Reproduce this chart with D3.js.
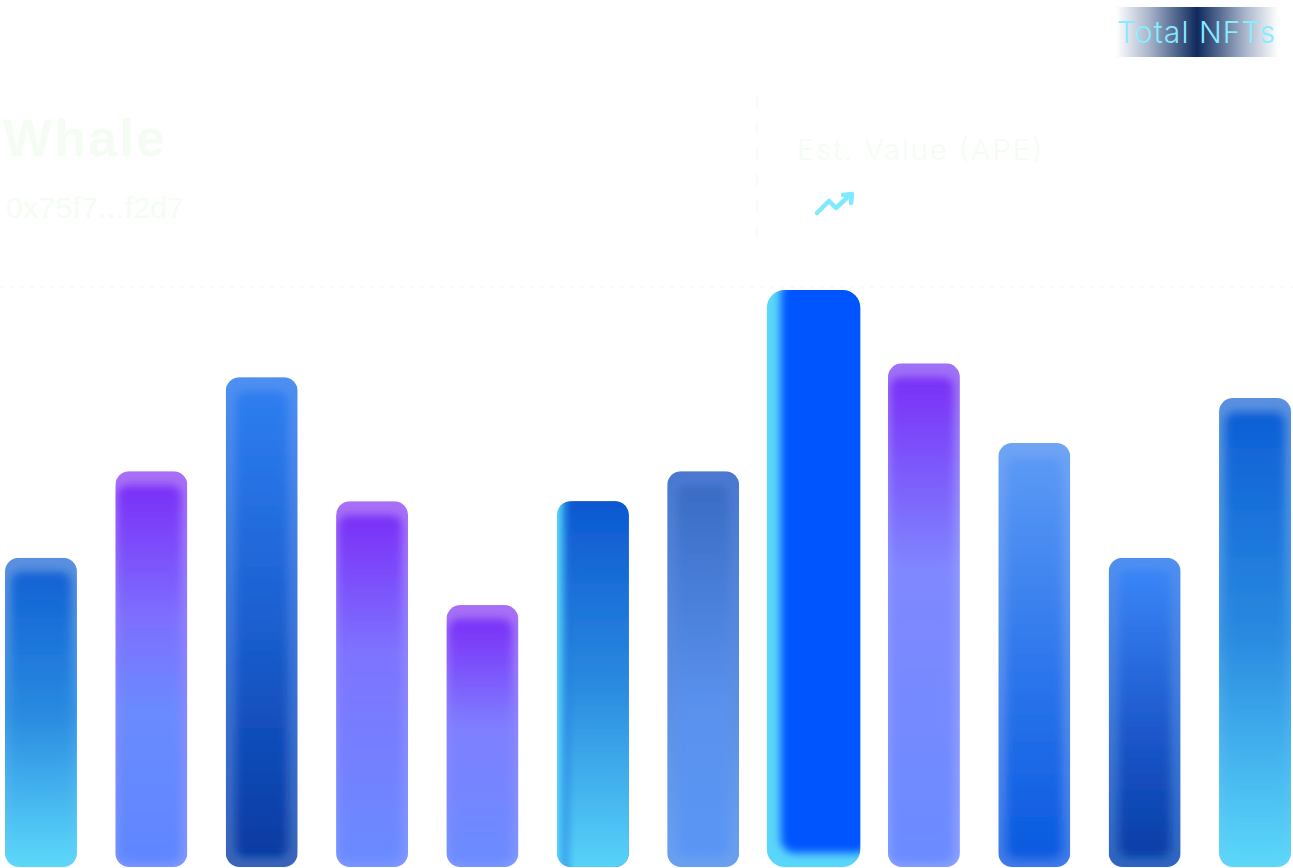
<!DOCTYPE html>
<html>
<head>
<meta charset="utf-8">
<script src="https://cdn.jsdelivr.net/npm/d3@7"></script>
<style>
html,body{margin:0;padding:0;background:#ffffff;overflow:hidden;}
svg{display:block;}
</style>
</head>
<body>
<svg id="chart" width="1293" height="868"></svg>
<script>
// ---- data ----
const categories = ["Jan","Feb","Mar","Apr","May","Jun","Jul","Aug","Sep","Oct","Nov","Dec"];
const values = [53.6, 68.6, 84.9, 63.4, 45.4, 63.4, 68.6, 100, 87.3, 73.5, 53.6, 81.3];
const highlighted = ["Aug"];
const titleText = "Whale";
const addressText = "0x75f7...f2d7";
const metricText = "Est. Value (APE)";
const badgeText = "Total NFTs";

// ---- styles (per bar appearance) ----
const barStyles = [
  {edgeDir:"v", edge:[["0","#5b8fe0"],["0.5","#3a96e6"],["1","#60d6f8"]], inner:[["0","#1262d4"],["0.5","#2a8be0"],["1","#5ad6fa"]], inset:[14,6,6,6]},
  {edgeDir:"v", edge:[["0","#a86ff6"],["0.4","#8f82ff"],["1","#7e98ff"]], inner:[["0","#7a2ff7"],["0.35","#7d6fff"],["0.6","#6a8bff"],["1","#5f86ff"]], inset:[14,6,4,2]},
  {edgeDir:"v", edge:[["0","#4e8ff2"],["0.6","#3a72d6"],["1","#3a64b8"]], inner:[["0","#2e7ef0"],["0.5","#1b5fd0"],["1","#063aa2"]], inset:[14,10,10,10]},
  {edgeDir:"v", edge:[["0","#a86ff6"],["0.4","#8f82ff"],["1","#7e98ff"]], inner:[["0","#7a2ff7"],["0.4","#7e74ff"],["1","#6a8cff"]], inset:[14,6,4,2]},
  {edgeDir:"v", edge:[["0","#a86ff6"],["0.4","#8f82ff"],["1","#7e98ff"]], inner:[["0","#7a2ff7"],["0.45","#7f80ff"],["1","#6a8cff"]], inset:[14,6,4,2]},
  {edgeDir:"h", edge:[["0","#5ad6fa"],["0.25","#0b5bd6"],["1","#0b5bd6"]], inner:[["0","#0b55d0"],["0.5","#2a8ae0"],["1","#5ad6fa"]], inset:[-10,-10,-10,10]},
  {edgeDir:"v", edge:[["0","#4a78d0"],["1","#6aa0f0"]], inner:[["0","#3a6cc4"],["0.6","#5a92ee"],["1","#5a96f5"]], inset:[14,10,10,10]},
  {edgeDir:"v", edge:[["0","#5ad6fa"],["1","#5ad6fa"]], inner:[["0","#0055ff"],["1","#0055ff"]], inset:[-10,-10,14,14]},
  {edgeDir:"v", edge:[["0","#a070f6"],["0.4","#9098ff"],["1","#8aa0ff"]], inner:[["0","#7a2ff7"],["0.4","#8088ff"],["1","#6a8cff"]], inset:[14,6,4,2]},
  {edgeDir:"v", edge:[["0","#6fa4f5"],["1","#3f7ae8"]], inner:[["0","#5c9af5"],["0.5","#2f78ec"],["1","#0a5ae0"]], inset:[14,8,8,8]},
  {edgeDir:"v", edge:[["0","#4f8ff2"],["1","#2f64c0"]], inner:[["0","#3a86f8"],["0.6","#1a55c8"],["1","#063ea6"]], inset:[12,10,10,10]},
  {edgeDir:"v", edge:[["0","#5b8fe0"],["0.5","#3a96e6"],["1","#60d6f8"]], inner:[["0","#0d5fd6"],["0.5","#2a8ae0"],["1","#5ad6fa"]], inset:[14,6,6,6]}
];

const W = 1293, H = 868;
const svg = d3.select("#chart");
const defs = svg.append("defs");

const x = d3.scaleBand().domain(categories).range([5, 1291]).paddingInner(0.348).paddingOuter(0);
const y = d3.scaleLinear().domain([0, 100]).range([867, 290]);

defs.append("filter").attr("id","soft").attr("x","-50%").attr("y","-50%").attr("width","200%").attr("height","200%")
  .append("feGaussianBlur").attr("stdDeviation", 4);

// ---- header texts (very faint) ----
const faint = "#f5fcf4";
svg.append("text").attr("x", 3).attr("y", 156).text(titleText)
  .attr("font-family","Liberation Sans, Arial, sans-serif").attr("font-size", 52).attr("font-weight", 700)
  .attr("textLength", 162).attr("fill", faint);
svg.append("text").attr("x", 6).attr("y", 218).text(addressText)
  .attr("font-family","Liberation Sans, Arial, sans-serif").attr("font-size", 30)
  .attr("textLength", 178).attr("fill", faint);
svg.append("text").attr("x", 797).attr("y", 160).text(metricText)
  .attr("font-family","Inter, Open Sans, sans-serif").attr("font-size", 29).attr("font-weight", 300)
  .attr("textLength", 245).attr("fill", faint);
svg.append("line").attr("x1",757).attr("x2",757).attr("y1",96).attr("y2",252)
  .attr("stroke","#f6fbf4").attr("stroke-width",2).attr("stroke-dasharray","12 14");
svg.append("line").attr("x1",0).attr("x2",W).attr("y1",287).attr("y2",287)
  .attr("stroke","#f8faf2").attr("stroke-width",1.5).attr("stroke-dasharray","4 6");

// trend icon
svg.append("path").attr("d","M817,213 L829,201 L836,208 L850,195")
  .attr("fill","none").attr("stroke","#7fe9ff").attr("stroke-width",4.5).attr("stroke-linecap","round").attr("stroke-linejoin","round");
svg.append("path").attr("d","M843,195 L852,194 L851,203")
  .attr("fill","none").attr("stroke","#7fe9ff").attr("stroke-width",4.5).attr("stroke-linecap","round").attr("stroke-linejoin","round");

// badge
const bg = defs.append("linearGradient").attr("id","badgeGrad").attr("x1","0").attr("x2","1").attr("y1","0").attr("y2","0");
[["0","#ffffff"],["0.2","#aab6cc"],["0.5","#0f2a5e"],["0.8","#aab6cc"],["1","#ffffff"]].forEach(s=>bg.append("stop").attr("offset",s[0]).attr("stop-color",s[1]));
svg.append("rect").attr("x",1116).attr("y",7).attr("width",162).attr("height",50).attr("fill","url(#badgeGrad)");
svg.append("text").attr("x",1117).attr("y",43).text(badgeText)
  .attr("font-family","Inter, Open Sans, sans-serif").attr("font-size",30).attr("font-weight",300)
  .attr("textLength",158).attr("fill","#86ecff");

// ---- bars ----
const data = categories.map((c,i)=>({c, v: values[i], s: barStyles[i], hi: highlighted.includes(c)}));

function grad(id, dir, stops){
  const g = defs.append("linearGradient").attr("id", id)
    .attr("x1","0").attr("y1","0").attr("x2", dir==="h" ? "1" : "0").attr("y2", dir==="h" ? "0" : "1");
  stops.forEach(s=>g.append("stop").attr("offset",s[0]).attr("stop-color",s[1]));
}

data.forEach((d,i)=>{
  let bw = x.bandwidth();
  let cx = x(d.c) + bw/2;
  if (d.hi) bw = bw * 1.3;
  const x0 = cx - bw/2;
  const y0 = y(d.v), y1 = y(0);
  const h = y1 - y0;
  const r = d.hi ? 18 : 14;
  grad("edge"+i, d.s.edgeDir, d.s.edge);
  grad("inner"+i, "v", d.s.inner);
  defs.append("clipPath").attr("id","clip"+i)
    .append("rect").attr("x",x0).attr("y",y0).attr("width",bw).attr("height",h).attr("rx",r).attr("ry",r);
  const g = svg.append("g").attr("class","bar").attr("clip-path","url(#clip"+i+")");
  g.append("rect").attr("x",x0).attr("y",y0).attr("width",bw).attr("height",h).attr("fill","url(#edge"+i+")");
  const [t,rr,b,l] = d.s.inset;
  g.append("rect").attr("x",x0+l).attr("y",y0+t).attr("width",bw-l-rr).attr("height",h-t-b)
    .attr("rx",r-4).attr("fill","url(#inner"+i+")").attr("filter","url(#soft)");
});
</script>
</body>
</html>
